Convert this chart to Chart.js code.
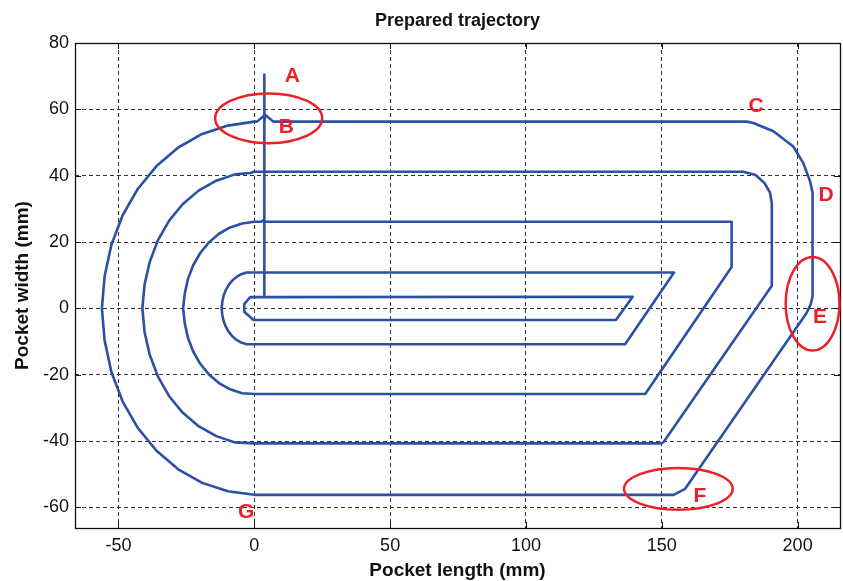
<!DOCTYPE html>
<html>
<head>
<meta charset="utf-8">
<script src="https://cdn.jsdelivr.net/npm/chart.js@4.4.1/dist/chart.umd.min.js"></script>
<style>
html,body{margin:0;padding:0;background:#fff;}
#wrap{width:843px;height:581px;position:relative;}
</style>
</head>
<body>
<div id="wrap"><canvas id="c"></canvas></div>
<script>
// ---- axis ticks / ranges ----
const xTicks = [-50, 0, 50, 100, 150, 200];
const yTicks = [-60, -40, -20, 0, 20, 40, 60, 80];
const xRange = [-66, 215.6];
const yRange = [-66.2, 80];

// ---- trajectory pieces (mm) ----
const plungeX = [3.7, 3.7];
const plungeY = [70.5, 3.4];

const loop1X = [139.3, 133.1, -0.3, -3.7, -3.7, -1.5, 3.7, 3.7];
const loop1Y = [3.5, -3.5, -3.5, -1.0, 1.3, 3.4, 3.4, 10.8];

const loop2X = [154.5, 136.5, -1, -2.9, -4.8, -6.5, -8.1, -9.4, -10.5, -11.3, -11.8, -12, -11.8, -11.3, -10.5, -9.4, -8.1, -6.5, -4.8, -2.9, -1, 3.7, 3.7];
const loop2Y = [10.8, -10.8, -10.8, -10.8, -10.3, -9.5, -8.4, -7.1, -5.5, -3.8, -1.9, 0, 1.9, 3.8, 5.5, 7.1, 8.4, 9.5, 10.3, 10.8, 10.8, 10.8, 26.1];

const loop3X = [5.5, 175.7, 175.7, 143.9, 0, -4.5, -8.9, -13, -16.7, -19.9, -22.5, -24.4, -25.6, -26.2, -25.6, -24.4, -22.5, -19.9, -16.7, -13, -8.9, -4.5, 0, 2.5, 3.7, 3.7];
const loop3Y = [26.1, 26.1, 12.5, -25.8, -25.8, -25.6, -24.4, -22.5, -19.9, -16.7, -13, -8.9, -4.5, 0, 4.5, 8.9, 13, 16.7, 19.9, 22.5, 24.4, 25.6, 26.1, 26.1, 26.8, 41.2];

const loop4X = [180, 184.5, 187.8, 189.8, 190.5, 190.5, 150.8, 150, 0, -7.1, -14, -20.5, -26.4, -31.4, -35.5, -38.5, -40.4, -41.2, -40.4, -38.5, -35.5, -31.4, -26.4, -20.5, -14, -7.1, -1.5, 0, 3.7, 3.7];
const loop4Y = [41.2, 40.2, 37.8, 35, 31.8, 6.8, -40.1, -40.7, -40.7, -40.4, -38.5, -35.5, -31.4, -26.4, -20.5, -14, -7.1, 0, 7.1, 14, 20.5, 26.4, 31.4, 35.5, 38.5, 40.4, 40.8, 41.2, 41.2, 56.3];

const loop5X = [4, 7, 181.2, 183.7, 191.1, 198.4, 202.1, 204.6, 205.5, 205.5, 204.8, 203.3, 158.6, 154.3, 0, -9.7, -19.2, -28, -36, -42.9, -48.5, -52.6, -55.1, -56.1, -55.1, -52.6, -48.5, -42.9, -36, -28, -19.2, -9.7, 0, 1, 4];
const loop5Y = [58.4, 56.3, 56.3, 55.9, 53.4, 48.8, 43.8, 38.3, 34.8, 3.6, 1.2, -1.4, -54.4, -56.2, -56.2, -55.1, -52.6, -48.5, -42.9, -36, -28, -19.2, -9.7, 0, 9.7, 19.2, 28, 36, 42.9, 48.5, 52.6, 55.1, 56.3, 56.3, 58.4];

// ---- red annotations (data units) ----
const noteText = ['A', 'B', 'C', 'D', 'E', 'F', 'G'];
const noteX = [14, 11.8, 184.7, 210.5, 208.2, 164, -3];
const noteY = [69.9, 54.5, 61, 34.2, -2.8, -56.5, -61.3];

const ellCX = [5.3, 205.5, 156.1];
const ellCY = [57.3, 1.4, -54.4];
const ellRX = [19.7, 9.9, 20];
const ellRY = [7.5, 14.1, 6.3];

// ---- build path ----
const path = [];
function addPiece(xs, ys) { for (let i = 0; i < xs.length; i++) path.push({x: xs[i], y: ys[i]}); }
addPiece(plungeX, plungeY);
addPiece(loop1X, loop1Y);
addPiece(loop2X, loop2Y);
addPiece(loop3X, loop3Y);
addPiece(loop4X, loop4Y);
addPiece(loop5X, loop5Y);

const FONT = "'Liberation Sans', Arial, Helvetica, sans-serif";
const LINE = '#2b50a4';
const RED = '#ec2027';

const overlay = {
  id: 'overlay',
  beforeDatasetsDraw(chart) {
    const {ctx, chartArea: a, scales: {x, y}} = chart;
    ctx.save();
    ctx.strokeStyle = '#111';
    ctx.lineWidth = 1;
    ctx.beginPath();
    const tl = 6;
    xTicks.forEach(v => {
      const p = Math.round(x.getPixelForValue(v)) + 0.5;
      ctx.moveTo(p, a.bottom); ctx.lineTo(p, a.bottom - tl);
      ctx.moveTo(p, a.top); ctx.lineTo(p, a.top + tl);
    });
    yTicks.forEach(v => {
      const p = Math.round(y.getPixelForValue(v)) + 0.5;
      ctx.moveTo(a.left, p); ctx.lineTo(a.left + tl, p);
      ctx.moveTo(a.right, p); ctx.lineTo(a.right - tl, p);
    });
    ctx.stroke();
    ctx.lineWidth = 1.3;
    ctx.strokeRect(Math.round(a.left) + 0.5, Math.round(a.top) + 0.5, Math.round(a.right - a.left), Math.round(a.bottom - a.top));
    ctx.restore();
  },
  afterDatasetsDraw(chart) {
    const {ctx, scales: {x, y}} = chart;
    ctx.save();
    ctx.strokeStyle = RED;
    ctx.lineWidth = 2.5;
    for (let i = 0; i < ellCX.length; i++) {
      const cx = x.getPixelForValue(ellCX[i]);
      const cy = y.getPixelForValue(ellCY[i]);
      const rx = Math.abs(x.getPixelForValue(ellCX[i] + ellRX[i]) - cx);
      const ry = Math.abs(y.getPixelForValue(ellCY[i] + ellRY[i]) - cy);
      ctx.beginPath();
      ctx.ellipse(cx, cy, rx, ry, 0, 0, Math.PI * 2);
      ctx.stroke();
    }
    ctx.fillStyle = RED;
    ctx.font = 'bold 21px ' + FONT;
    ctx.textAlign = 'center';
    ctx.textBaseline = 'middle';
    for (let i = 0; i < noteText.length; i++) {
      ctx.fillText(noteText[i], x.getPixelForValue(noteX[i]), y.getPixelForValue(noteY[i]));
    }
    ctx.restore();
  }
};

new Chart(document.getElementById('c'), {
  type: 'scatter',
  data: {
    datasets: [{
      data: path,
      showLine: true,
      borderColor: LINE,
      backgroundColor: LINE,
      borderWidth: 2.6,
      pointRadius: 0,
      fill: false,
      tension: 0,
      borderJoinStyle: 'round'
    }]
  },
  options: {
    responsive: true,
    maintainAspectRatio: false,
    animation: false,
    layout: {padding: {left: 0, right: 3, top: 0, bottom: 0}},
    plugins: {
      legend: {display: false},
      tooltip: {enabled: false},
      title: {
        display: true,
        text: 'Prepared trajectory',
        fullSize: false,
        color: '#111',
        font: {family: FONT, size: 18, weight: 'bold'},
        padding: {top: 10, bottom: 11.4}
      }
    },
    scales: {
      x: {
        type: 'linear',
        min: xRange[0], max: xRange[1],
        afterBuildTicks: s => { s.ticks = xTicks.map(v => ({value: v})); },
        afterFit: s => { s.height = 53; },
        grid: {color: '#333', lineWidth: 1, drawTicks: false},
        border: {display: false, dash: [4, 3]},
        ticks: {color: '#111', font: {family: FONT, size: 18}, padding: 7, maxRotation: 0},
        title: {display: true, text: 'Pocket length (mm)', color: '#111', font: {family: FONT, size: 19, weight: 'bold'}, padding: {top: 0, bottom: -1}}
      },
      y: {
        type: 'linear',
        min: yRange[0], max: yRange[1],
        afterBuildTicks: s => { s.ticks = yTicks.map(v => ({value: v})); },
        afterFit: s => { s.width = 75; },
        grid: {color: '#333', lineWidth: 1, drawTicks: false},
        border: {display: false, dash: [4, 3]},
        ticks: {color: '#111', font: {family: FONT, size: 18}, padding: 6},
        title: {display: true, text: 'Pocket width (mm)', color: '#111', font: {family: FONT, size: 19, weight: 'bold'}, padding: {top: 11, bottom: 0}}
      }
    }
  },
  plugins: [overlay]
});
</script>
</body>
</html>
